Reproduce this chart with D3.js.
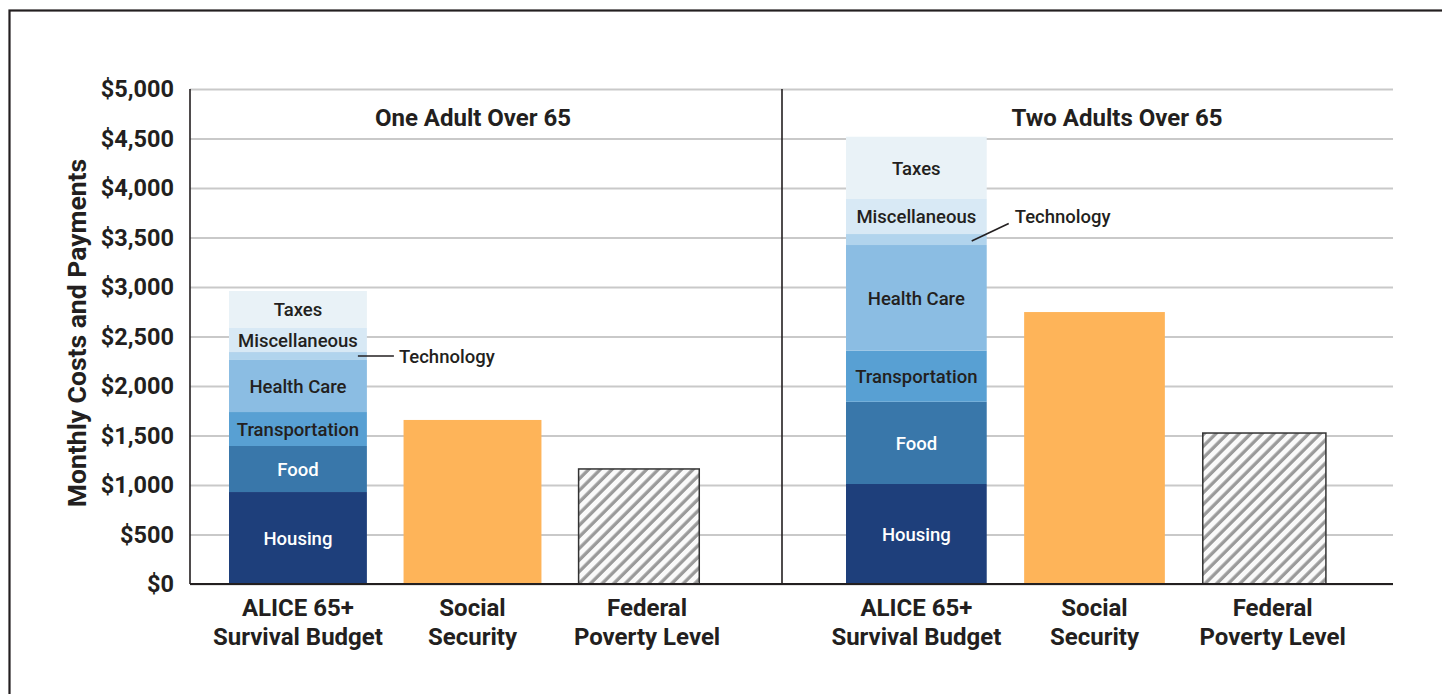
<!DOCTYPE html>
<html>
<head>
<meta charset="utf-8">
<script src="https://cdn.jsdelivr.net/npm/d3@7"></script>
<style>
  html, body { margin: 0; padding: 0; background: #fff; }
  svg { display: block; font-family: Roboto, "Liberation Sans", Arial, sans-serif; }
</style>
</head>
<body>
<svg id="chart" width="1442" height="694"></svg>
<script>
// ---------------- DATA ----------------
const groups = ["One Adult Over 65", "Two Adults Over 65"];
const categories = ["ALICE 65+|Survival Budget", "Social|Security", "Federal|Poverty Level"];
const budgetItems = ["Housing", "Food", "Transportation", "Health Care", "Technology", "Miscellaneous", "Taxes"];
const oneAdultBudget = [929, 465, 343, 526, 80, 243, 374];
const twoAdultBudget = [1010, 831, 516, 1067, 111, 354, 629];
const socialSecurity = [1657, 2747];
const povertyLevel = [1162, 1525];
const yTicks = [0, 500, 1000, 1500, 2000, 2500, 3000, 3500, 4000, 4500, 5000];
const yTitle = "Monthly Costs and Payments";

// ---------------- STYLE / LAYOUT ----------------
const budgetColors = ["#1e3f7b", "#3977aa", "#58a0d3", "#8bbde3", "#b1d4ed", "#d8e9f5", "#e9f2f7"];
const lightText = { "Housing": true, "Food": true };
const ssColor = "#feb459";
const plot = { left: 190, right: 1393, top: 89, bottom: 584, divider: 782 };
const groupBarRanges = [[229, 716], [846, 1343]];
const titleX = [473, 1117];
const segFont = 18.5;

const svg = d3.select("#chart");

// frame
svg.append("rect").attr("x", 9.5).attr("y", 10.5).attr("width", 1450).attr("height", 700)
  .attr("fill", "none").attr("stroke", "#231f20").attr("stroke-width", 2.2);

// hatch pattern
const defs = svg.append("defs");
const pat = defs.append("pattern").attr("id", "hatch").attr("patternUnits", "userSpaceOnUse")
  .attr("width", 8.2).attr("height", 8.2).attr("patternTransform", "rotate(45)");
pat.append("rect").attr("width", 8.2).attr("height", 8.2).attr("fill", "#fafafa");
pat.append("line").attr("x1", 2).attr("y1", 0).attr("x2", 2).attr("y2", 8.2)
  .attr("stroke", "#9a9a9a").attr("stroke-width", 3.3);

// scales
const y = d3.scaleLinear().domain([0, 5000]).range([plot.bottom, plot.top]);
const xInner = groups.map((g, i) => d3.scaleBand().domain(categories)
  .range(groupBarRanges[i]).paddingInner(0.21).paddingOuter(0));

// gridlines
const grid = svg.append("g").attr("transform", `translate(${plot.left},0)`)
  .call(d3.axisLeft(y).tickValues(yTicks).tickSize(-(plot.right - plot.left)).tickFormat(""));
grid.select(".domain").remove();
grid.selectAll("line").attr("stroke", "#c9c9c9").attr("stroke-width", 2);

// y axis labels
const yAxis = svg.append("g").attr("transform", `translate(${plot.left},0)`)
  .call(d3.axisLeft(y).tickValues(yTicks).tickSize(0).tickPadding(16)
    .tickFormat(d => "$" + d3.format(",")(d)));
yAxis.select(".domain").remove();
yAxis.selectAll("text").attr("font-family", "Roboto").attr("font-weight", 700)
  .attr("font-size", 23.5).attr("fill", "#231f20");

// y title
svg.append("text").attr("transform", `translate(86,333) rotate(-90)`)
  .attr("text-anchor", "middle").attr("font-weight", 700).attr("font-size", 26.5)
  .attr("fill", "#231f20").text(yTitle);

// bars
groups.forEach((g, gi) => {
  const xs = xInner[gi];
  const budget = gi === 0 ? oneAdultBudget : twoAdultBudget;
  let acc = 0;
  const segs = budget.map((v, i) => { const s = { name: budgetItems[i], y0: acc, y1: acc + v, color: budgetColors[i] }; acc += v; return s; });
  const bx = xs(categories[0]);
  const gBar = svg.append("g");
  gBar.selectAll("rect").data(segs).join("rect")
    .attr("x", bx).attr("width", xs.bandwidth())
    .attr("y", d => y(d.y1)).attr("height", d => y(d.y0) - y(d.y1))
    .attr("fill", d => d.color);
  gBar.selectAll("text").data(segs.filter(d => d.name !== "Technology")).join("text")
    .attr("x", bx + xs.bandwidth() / 2).attr("y", d => (y(d.y0) + y(d.y1)) / 2)
    .attr("dy", "0.36em").attr("text-anchor", "middle")
    .attr("font-size", segFont).attr("font-weight", 500)
    .attr("fill", d => lightText[d.name] ? "#ffffff" : "#231f20").text(d => d.name);

  // Technology callout
  const tech = segs[4];
  const ty = (y(tech.y0) + y(tech.y1)) / 2;
  const bxr = bx + xs.bandwidth();
  if (gi === 0) {
    svg.append("line").attr("x1", bxr - 9).attr("y1", ty).attr("x2", bxr + 27).attr("y2", ty)
      .attr("stroke", "#231f20").attr("stroke-width", 1.6);
    svg.append("text").attr("x", bxr + 32).attr("y", ty).attr("dy", "0.36em")
      .attr("font-size", segFont).attr("font-weight", 500).attr("fill", "#231f20").text("Technology");
  } else {
    svg.append("line").attr("x1", bxr - 15).attr("y1", ty + 1.5).attr("x2", bxr + 22).attr("y2", ty - 16)
      .attr("stroke", "#231f20").attr("stroke-width", 1.6);
    svg.append("text").attr("x", bxr + 28).attr("y", ty - 23).attr("dy", "0.36em")
      .attr("font-size", segFont).attr("font-weight", 500).attr("fill", "#231f20").text("Technology");
  }

  // Social Security
  svg.append("rect").attr("x", xs(categories[1])).attr("width", xs.bandwidth())
    .attr("y", y(socialSecurity[gi])).attr("height", y(0) - y(socialSecurity[gi]))
    .attr("fill", ssColor);

  // Federal Poverty Level
  svg.append("rect").attr("x", xs(categories[2]) + 0.5).attr("width", xs.bandwidth() * 0.875)
    .attr("y", y(povertyLevel[gi])).attr("height", y(0) - y(povertyLevel[gi]))
    .attr("fill", "url(#hatch)").attr("stroke", "#333").attr("stroke-width", 1.5);

  // category labels
  categories.forEach(c => {
    const t = svg.append("text").attr("x", xs(c) + xs.bandwidth() / 2).attr("y", 616)
      .attr("text-anchor", "middle").attr("font-weight", 700).attr("font-size", 24).attr("fill", "#231f20");
    c.split("|").forEach((line, li) => {
      t.append("tspan").attr("x", xs(c) + xs.bandwidth() / 2).attr("dy", li === 0 ? 0 : 29).text(line);
    });
  });

  // group title
  svg.append("text").attr("x", titleX[gi]).attr("y", 126).attr("text-anchor", "middle")
    .attr("font-weight", 700).attr("font-size", 24).attr("fill", "#231f20").text(g);
});

// axis lines
svg.append("line").attr("x1", plot.left).attr("x2", plot.left).attr("y1", plot.top).attr("y2", plot.bottom)
  .attr("stroke", "#231f20").attr("stroke-width", 1.6);
svg.append("line").attr("x1", plot.divider).attr("x2", plot.divider).attr("y1", plot.top).attr("y2", plot.bottom)
  .attr("stroke", "#231f20").attr("stroke-width", 1.6);
svg.append("line").attr("x1", plot.left).attr("x2", plot.right).attr("y1", plot.bottom).attr("y2", plot.bottom)
  .attr("stroke", "#231f20").attr("stroke-width", 2);
</script>
</body>
</html>
